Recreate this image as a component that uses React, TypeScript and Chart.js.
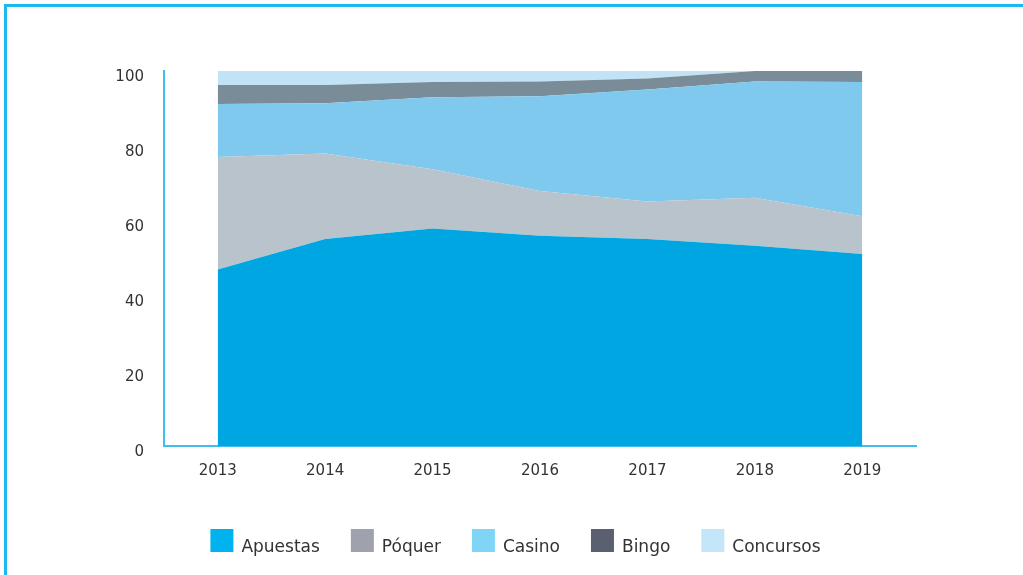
import React, { useEffect, useRef } from "react";
import { Chart, registerables } from "chart.js";

Chart.register(...registerables);

// ---- data ----
const years = ["2013", "2014", "2015", "2016", "2017", "2018", "2019"];
const apuestas = [47.1, 55.2, 58.0, 56.1, 55.2, 53.4, 51.2];
const poquer = [30.0, 22.8, 15.8, 11.9, 10.0, 12.8, 10.1];
const casino = [14.1, 13.4, 19.2, 25.3, 29.9, 31.0, 35.8];
const bingo = [5.1, 4.9, 4.1, 3.9, 2.9, 2.8, 2.9];
const concursos = [3.7, 3.7, 2.9, 2.8, 2.0, 0, 0];
const seriesNames = ["Apuestas", "Póquer", "Casino", "Bingo", "Concursos"];
const yTickValues = [0, 20, 40, 60, 80, 100];

// ---- styles ----
const areaColors = ["#00a6e1", "#b9c3cc", "#7fc9ef", "#7b8c99", "#c1e3f6"];
const legendColors = ["#00b2ed", "#9fa2ac", "#80d4f6", "#5b6070", "#c3e7f9"];
const axisColor = "#3fbeee";
const textColor = "#333333";
const fontFamily = '"DejaVu Sans", sans-serif';

const legendPlugin = {
  id: "customLegend",
  afterDraw(chart: any) {
    const ctx = chart.ctx;
    ctx.save();
    ctx.font = `17px ${fontFamily}`;
    const box = 23;
    const gapText = 8;
    const gapItem = 31;
    const items = chart.data.datasets.map((d: any, i: number) => ({
      text: d.label,
      color: legendColors[i],
      w: ctx.measureText(d.label).width,
    }));
    const total =
      items.reduce((s: number, it: any) => s + box + gapText + it.w, 0) +
      gapItem * (items.length - 1);
    let x = 515.5 - total / 2;
    const top = 529;
    ctx.textBaseline = "alphabetic";
    ctx.textAlign = "left";
    items.forEach((it: any) => {
      ctx.fillStyle = it.color;
      ctx.fillRect(x, top, box, box);
      ctx.fillStyle = textColor;
      ctx.fillText(it.text, x + box + gapText, top + box);
      x += box + gapText + it.w + gapItem;
    });
    ctx.restore();
  },
};

export default function App() {
  const canvasRef = useRef<HTMLCanvasElement | null>(null);

  useEffect(() => {
    if (!canvasRef.current) return;
    const seriesData = [apuestas, poquer, casino, bingo, concursos];
    const chart = new Chart(canvasRef.current, {
      type: "line",
      data: {
        labels: years,
        datasets: seriesData.map((d, i) => ({
          label: seriesNames[i],
          data: d,
          backgroundColor: areaColors[i],
          borderColor: "rgba(0,0,0,0)",
          borderWidth: 0,
          pointRadius: 0,
          pointHoverRadius: 0,
          tension: 0,
          fill: i === 0 ? "origin" : "-1",
        })),
      },
      options: {
        responsive: false,
        animation: false,
        devicePixelRatio: 1,
        layout: { padding: { left: 100, right: 107, top: 71, bottom: 79 } },
        plugins: {
          legend: { display: false },
          tooltip: { enabled: false },
        },
        scales: {
          x: {
            type: "category",
            offset: true,
            grid: { display: false },
            border: { display: true, color: axisColor, width: 2 },
            ticks: {
              color: textColor,
              font: { family: fontFamily, size: 15 },
              padding: 8,
              maxRotation: 0,
            },
            afterFit: (s: any) => {
              s.height = 50;
            },
          },
          y: {
            stacked: true,
            min: 0,
            max: 100,
            grid: { display: false },
            border: { display: true, color: axisColor, width: 2 },
            ticks: {
              color: textColor,
              font: { family: fontFamily, size: 15 },
              padding: 12,
              labelOffset: 6,
            },
            afterBuildTicks: (s: any) => {
              s.ticks = yTickValues.map((v) => ({ value: v }));
            },
            afterFit: (s: any) => {
              s.width = 64;
            },
          },
        },
      },
      plugins: [legendPlugin],
    });
    return () => chart.destroy();
  }, []);

  return (
    <div
      style={{
        position: "fixed",
        left: 0,
        top: 0,
        width: 1023,
        height: 575,
        overflow: "hidden",
        background: "#ffffff",
      }}
    >
      <canvas
        ref={canvasRef}
        width={1023}
        height={575}
        style={{ position: "absolute", left: 0, top: 0, width: 1023, height: 575 }}
      />
      <div
        style={{
          position: "absolute",
          left: 4,
          top: 4,
          width: 1200,
          height: 800,
          borderLeft: "3px solid #1cb9ec",
          borderTop: "3px solid #1cb9ec",
          pointerEvents: "none",
        }}
      />
    </div>
  );
}
